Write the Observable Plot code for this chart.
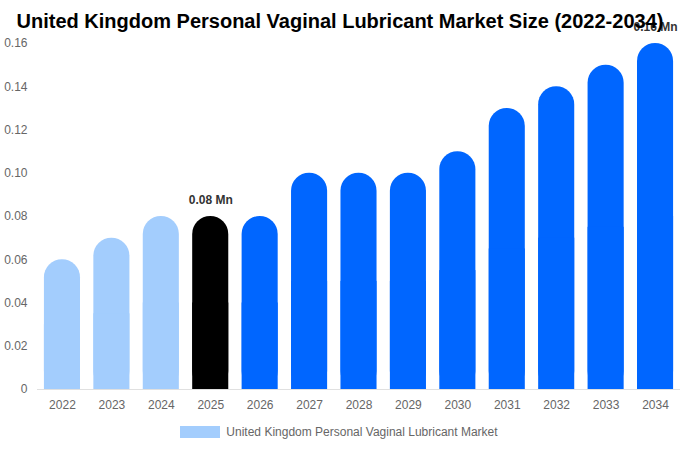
<!DOCTYPE html>
<html>
<head>
<meta charset="utf-8">
<script src="https://cdn.jsdelivr.net/npm/d3@7"></script>
<script src="https://cdn.jsdelivr.net/npm/@observablehq/plot@0.6"></script>
<style>
  body { margin: 0; background: #fff; font-family: "Liberation Sans", Arial, sans-serif; }
  #wrap { position: relative; width: 680px; height: 450px; }
  #title { position: absolute; left: 0; top: 8px; width: 680px; text-align: center; font-size: 20px; font-weight: bold; color: #000; line-height: 26px; z-index: 2; pointer-events: none; }
  #chart { position: absolute; left: 0; top: 0; }
  #chart svg { overflow: visible; }
  #legend { position: absolute; left: 0; top: 425px; width: 680px; display: flex; justify-content: center; align-items: center; font-size: 12px; color: #666; }
  #legend .sw { width: 40px; height: 12px; background: #a3cdfd; margin-right: 6px; margin-left: -2px; }
</style>
</head>
<body>
<div id="wrap">
  <div id="chart"></div>
  <div id="title">United Kingdom Personal Vaginal Lubricant Market Size (2022-2034)</div>
  <div id="legend"><div class="sw"></div><span>United Kingdom Personal Vaginal Lubricant Market</span></div>
</div>
<script>
const years = ["2022","2023","2024","2025","2026","2027","2028","2029","2030","2031","2032","2033","2034"];
const values = [0.06, 0.07, 0.08, 0.08, 0.08, 0.10, 0.10, 0.10, 0.11, 0.13, 0.14, 0.15, 0.16];
const groups = ["hist","hist","hist","current","fore","fore","fore","fore","fore","fore","fore","fore","fore"];
const labels = ["","","","0.08 Mn","","","","","","","","","0.16 Mn"];
const yTicks = [0, 0.02, 0.04, 0.06, 0.08, 0.10, 0.12, 0.14, 0.16];

const data = years.map((y, i) => ({year: y, value: values[i], group: groups[i], label: labels[i]}));
const colorMap = {hist: "#a3cdfd", current: "#000000", fore: "#0066ff"};

const chart = Plot.plot({
  width: 680,
  height: 420,
  marginTop: 43,
  marginBottom: 31,
  marginLeft: 37,
  marginRight: 0,
  style: {fontFamily: "'Liberation Sans', Arial, sans-serif", fontSize: "12px", background: "transparent"},
  x: {domain: years, paddingInner: 0.27, paddingOuter: 0.14, round: false, label: null},
  y: {domain: [0, 0.16], label: null},
  marks: [
    Plot.barY(data, {x: "year", y: "value", fill: d => colorMap[d.group], rx: 18}),
    Plot.barY(data, {x: "year", y: d => d.value / 2, fill: d => colorMap[d.group]}),
    Plot.ruleX([0], {frameAnchor: "left", y1: 0, y2: 0.16, stroke: "#e0e0e0"}),
    Plot.ruleY([0], {stroke: "#e0e0e0"}),
    Plot.axisY({ticks: yTicks, tickSize: 0, tickPadding: 10, tickFormat: d => d === 0 ? "0" : d.toFixed(2), fill: "#666", fontSize: 12, label: null}),
    Plot.axisX({tickSize: 0, tickPadding: 11, fill: "#666", fontSize: 12, label: null}),
    Plot.text(data.filter(d => d.label), {x: "year", y: "value", text: "label", dy: -16, fill: "#333", fontWeight: "bold", fontSize: 12})
  ]
});
document.getElementById("chart").appendChild(chart);
</script>
</body>
</html>
